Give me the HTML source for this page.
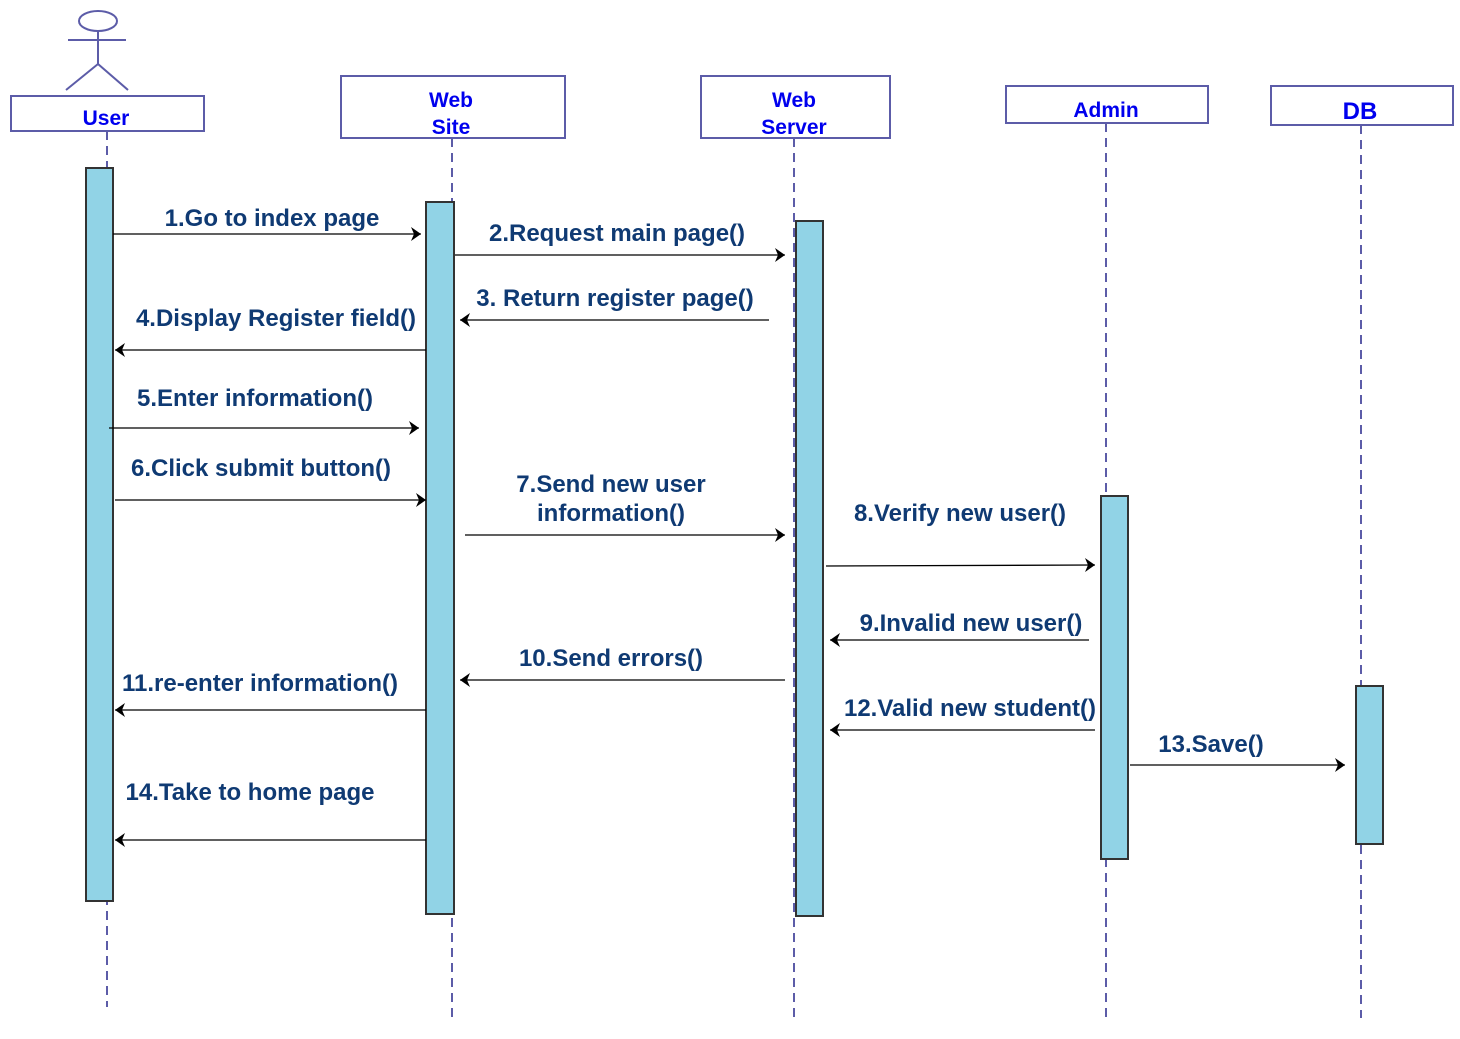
<!DOCTYPE html>
<html><head><meta charset="utf-8"><style>html,body{margin:0;padding:0;background:#fff}svg{display:block}</style></head>
<body>
<svg width="1460" height="1039" viewBox="0 0 1460 1039" xmlns="http://www.w3.org/2000/svg" font-family="Liberation Sans, sans-serif" font-weight="bold">
<defs>
<marker id="ar" viewBox="0 0 12 14" refX="11" refY="7" markerWidth="12" markerHeight="14" markerUnits="userSpaceOnUse" orient="auto">
<path d="M1,0 L11,7 L1,14 L4,7 Z" fill="#000"/>
</marker>
</defs>
<g stroke="#5c5ca8" stroke-width="2" fill="none">
<ellipse cx="98" cy="21" rx="19" ry="10"/>
<line x1="68" y1="40" x2="126" y2="40"/>
<line x1="98" y1="31" x2="98" y2="64"/>
<line x1="98" y1="64" x2="66" y2="90"/>
<line x1="98" y1="64" x2="128" y2="90"/>
<rect x="11" y="96" width="193" height="35"/>
<rect x="341" y="76" width="224" height="62"/>
<rect x="701" y="76" width="189" height="62"/>
<rect x="1006" y="86" width="202" height="37"/>
<rect x="1271" y="86" width="182" height="39"/>
<g stroke-dasharray="9,6">
<line x1="107" y1="131" x2="107" y2="1007"/>
<line x1="452" y1="138" x2="452" y2="1022"/>
<line x1="794" y1="138" x2="794" y2="1017"/>
<line x1="1106" y1="123" x2="1106" y2="1018"/>
<line x1="1361" y1="125" x2="1361" y2="1018"/>
</g>
</g>
<g fill="#0000ee" text-anchor="middle" font-size="21">
<text x="106" y="125">User</text>
<text x="451" y="107">Web</text><text x="451" y="134">Site</text>
<text x="794" y="107">Web</text><text x="794" y="134">Server</text>
<text x="1106" y="117">Admin</text>
<text x="1360" y="119" font-size="24">DB</text>
</g>
<g fill="#91d3e6" stroke="#333" stroke-width="2">
<rect x="86" y="168" width="27" height="733"/>
<rect x="426" y="202" width="28" height="712"/>
<rect x="796" y="221" width="27" height="695"/>
<rect x="1101" y="496" width="27" height="363"/>
<rect x="1356" y="686" width="27" height="158"/>
</g>
<g stroke="#000" stroke-width="1.3" marker-end="url(#ar)">
<line x1="113" y1="234" x2="421" y2="234"/>
<line x1="455" y1="255" x2="785" y2="255"/>
<line x1="769" y1="320" x2="460" y2="320"/>
<line x1="426" y1="350" x2="115" y2="350"/>
<line x1="109" y1="428" x2="419" y2="428"/>
<line x1="115" y1="500" x2="426" y2="500"/>
<line x1="465" y1="535" x2="785" y2="535"/>
<line x1="826" y1="566" x2="1095" y2="565"/>
<line x1="1089" y1="640" x2="830" y2="640"/>
<line x1="785" y1="680" x2="460" y2="680"/>
<line x1="426" y1="710" x2="115" y2="710"/>
<line x1="1095" y1="730" x2="830" y2="730"/>
<line x1="1130" y1="765" x2="1345" y2="765"/>
<line x1="426" y1="840" x2="115" y2="840"/>
</g>
<g fill="#0f3a73" text-anchor="middle" font-size="24">
<text x="272" y="226">1.Go to index page</text>
<text x="617" y="241">2.Request main page()</text>
<text x="615" y="306">3. Return register page()</text>
<text x="276" y="326">4.Display Register field()</text>
<text x="255" y="406">5.Enter information()</text>
<text x="261" y="476">6.Click submit button()</text>
<text x="611" y="492">7.Send new user</text>
<text x="611" y="521">information()</text>
<text x="960" y="521">8.Verify new user()</text>
<text x="971" y="631">9.Invalid new user()</text>
<text x="611" y="666">10.Send errors()</text>
<text x="260" y="691">11.re-enter information()</text>
<text x="970" y="716">12.Valid new student()</text>
<text x="1211" y="752">13.Save()</text>
<text x="250" y="800">14.Take to home page</text>
</g>
</svg>
</body></html>
